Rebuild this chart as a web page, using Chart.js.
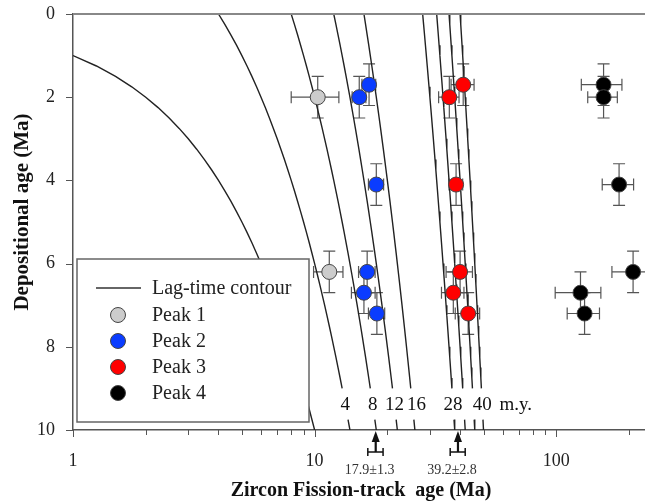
<!DOCTYPE html>
<html>
<head>
<meta charset="utf-8">
<script src="https://cdn.jsdelivr.net/npm/chart.js@4"></script>
<style>
  body { margin: 0; background: #fff; }
</style>
</head>
<body>
<canvas id="myChart" width="645" height="504"></canvas>
<script>
// depositional ages of the grain-age peaks (Ma)
const depAges = [1.7, 2.0, 4.1, 6.2, 6.7, 7.2];

const peak1X = [10.3, 11.5];
const peak1Y = [2.0, 6.2];
const peak1XErr = [2.3, 1.6];

const peak2X = [16.8, 15.3, 18.0, 16.5, 16.0, 18.1];
const peak2XErr = [1.1, 1.0, 1.3, 1.3, 1.8, 1.4];

const peak3X = [41.2, 36.1, 38.5, 40.0, 37.5, 43.2];
const peak3XErr = [4.5, 3.5, 2.5, 5.0, 4.0, 5.0];

const peak4X = [157, 157, 182, 208, 126, 131];
const peak4XErr = [30, 22, 27, 38, 27, 20];

const depErr = 0.5;

// lag-time contours (m.y.): FT age = depositional age + lag
const lagTimes = [0, 4, 8, 12, 16, 28, 32, 36, 40];
const lagLabels = ['4', '8', '12', '16', '28', '40'];

// sources (bottom arrows)
const sourceAges = [17.9, 39.2];
const sourceErr = [1.3, 2.8];

const xMajorTicks = [1, 10, 100];
const xMinorTicks = [2, 3, 4, 5, 6, 7, 8, 9, 20, 30, 40, 50, 60, 70, 80, 90, 200];
const yTicks = [0, 2, 4, 6, 8, 10];

const serif = 'Liberation Serif';

function pts(xs, ys) {
  return xs.map((x, i) => ({ x: x, y: ys[i] }));
}

// sampling of depositional age along each contour
function contourData(lag) {
  const out = [];
  const start = lag === 0 ? 1 : 0;
  for (let d = start; d <= 9.001; d += 0.25) out.push({ x: d + lag, y: d });
  if (lag === 0) {
    out.push({ x: 9.5, y: 9.5 }, { x: 10, y: 10 });
  } else {
    out.push({ x: NaN, y: NaN }, { x: 9.75 + lag, y: 9.75 }, { x: 10 + lag, y: 10 });
  }
  return out;
}

const peaks = [
  { label: 'Peak 1', data: pts(peak1X, peak1Y), err: peak1XErr, color: '#cccccc' },
  { label: 'Peak 2', data: pts(peak2X, depAges), err: peak2XErr, color: '#0a3cff' },
  { label: 'Peak 3', data: pts(peak3X, depAges), err: peak3XErr, color: '#ff0000' },
  { label: 'Peak 4', data: pts(peak4X, depAges), err: peak4XErr, color: '#000000' }
];

const datasets = [];
peaks.forEach(p => {
  datasets.push({
    type: 'scatter',
    label: p.label,
    data: p.data,
    xErr: p.err,
    backgroundColor: p.color,
    borderColor: '#444',
    borderWidth: 1,
    pointRadius: 7.5,
    order: 0
  });
});
lagTimes.forEach(l => {
  datasets.push({
    type: 'line',
    label: 'lag ' + l,
    data: contourData(l),
    borderColor: '#222',
    borderWidth: 1.4,
    pointRadius: 0,
    fill: false,
    spanGaps: false,
    order: 1
  });
});

const extras = {
  id: 'extras',
  beforeDatasetsDraw(chart) {
    const c = chart.ctx, xs = chart.scales.x, ys = chart.scales.y;
    c.save();
    c.strokeStyle = '#555';
    c.lineWidth = 1.2;
    chart.data.datasets.forEach(ds => {
      if (!ds.xErr) return;
      ds.data.forEach((p, i) => {
        const px = xs.getPixelForValue(p.x), py = ys.getPixelForValue(p.y);
        const x0 = xs.getPixelForValue(p.x - ds.xErr[i]);
        const x1 = Math.min(xs.getPixelForValue(p.x + ds.xErr[i]), chart.chartArea.right + 20);
        const y0 = ys.getPixelForValue(p.y - depErr), y1 = ys.getPixelForValue(p.y + depErr);
        c.beginPath();
        c.moveTo(x0, py); c.lineTo(x1, py);
        c.moveTo(x0, py - 6); c.lineTo(x0, py + 6);
        c.moveTo(x1, py - 6); c.lineTo(x1, py + 6);
        c.moveTo(px, y0); c.lineTo(px, y1);
        c.moveTo(px - 6, y0); c.lineTo(px + 6, y0);
        c.moveTo(px - 6, y1); c.lineTo(px + 6, y1);
        c.stroke();
      });
    });
    c.restore();
  },
  afterDatasetsDraw(chart) {
    const c = chart.ctx, xs = chart.scales.x, ys = chart.scales.y;
    const a = chart.chartArea;
    c.save();
    // lag labels
    c.fillStyle = '#111';
    c.font = '19px ' + serif;
    c.textAlign = 'center';
    c.textBaseline = 'middle';
    lagLabels.forEach(t => {
      const nudge = t === '16' ? 4 : 0;
      c.fillText(t, xs.getPixelForValue(9.4 + Number(t)) + nudge, ys.getPixelForValue(9.4));
    });
    c.fillText('m.y.', xs.getPixelForValue(68), ys.getPixelForValue(9.4));

    // legend box
    const lx = 77, ly = 259, lw = 232, lh = 163;
    c.fillStyle = '#fff';
    c.fillRect(lx, ly, lw, lh);
    c.strokeStyle = '#666';
    c.lineWidth = 1.5;
    c.strokeRect(lx, ly, lw, lh);
    c.font = '20px ' + serif;
    c.textAlign = 'left';
    c.fillStyle = '#222';
    c.strokeStyle = '#333';
    c.lineWidth = 1.4;
    c.beginPath(); c.moveTo(96, 288); c.lineTo(141, 288); c.stroke();
    c.fillText('Lag-time contour', 152, 289);
    peaks.forEach((p, i) => {
      const y = 315 + i * 26;
      c.beginPath();
      c.arc(118, y, 7.5, 0, Math.PI * 2);
      c.fillStyle = p.color; c.fill();
      c.strokeStyle = '#444'; c.lineWidth = 1; c.stroke();
      c.fillStyle = '#222';
      c.fillText(p.label, 152, y + 1);
    });

    // frame: top line and tick marks
    c.strokeStyle = '#888';
    c.lineWidth = 2;
    c.beginPath(); c.moveTo(a.left, a.top); c.lineTo(a.right, a.top); c.stroke();
    c.strokeStyle = '#555';
    c.lineWidth = 1;
    c.beginPath();
    xMajorTicks.forEach(v => {
      const x = Math.round(xs.getPixelForValue(v)) + 0.5;
      c.moveTo(x, a.bottom); c.lineTo(x, a.bottom + 7);
    });
    xMinorTicks.forEach(v => {
      const x = Math.round(xs.getPixelForValue(v)) + 0.5;
      c.moveTo(x, a.bottom); c.lineTo(x, a.bottom + 5);
    });
    yTicks.forEach(v => {
      const y = Math.round(ys.getPixelForValue(v)) + 0.5;
      c.moveTo(a.left - 7, y); c.lineTo(a.left, y);
    });
    c.stroke();

    // source arrows below the axis
    c.fillStyle = '#111';
    c.strokeStyle = '#111';
    sourceAges.forEach((v, i) => {
      const x = xs.getPixelForValue(v);
      const x0 = xs.getPixelForValue(v - sourceErr[i]), x1 = xs.getPixelForValue(v + sourceErr[i]);
      c.lineWidth = 2.2;
      c.beginPath(); c.moveTo(x, a.bottom + 8); c.lineTo(x, a.bottom + 22); c.stroke();
      c.beginPath();
      c.moveTo(x, a.bottom + 1); c.lineTo(x - 4, a.bottom + 12); c.lineTo(x + 4, a.bottom + 12);
      c.closePath(); c.fill();
      c.lineWidth = 1.5;
      c.beginPath();
      c.moveTo(x0, a.bottom + 22); c.lineTo(x1, a.bottom + 22);
      c.moveTo(x0, a.bottom + 18); c.lineTo(x0, a.bottom + 26);
      c.moveTo(x1, a.bottom + 18); c.lineTo(x1, a.bottom + 26);
      c.stroke();
      c.font = '14px ' + serif;
      c.textAlign = 'center';
      c.fillStyle = '#333';
      c.fillText(v + '\u00b1' + sourceErr[i], x - 6, a.bottom + 40);
      c.fillStyle = '#111';
    });

    // axis titles
    c.fillStyle = '#111';
    c.font = 'bold 20px ' + serif;
    c.textAlign = 'center';
    c.fillText('Zircon Fission-track  age (Ma)', 361, 491);
    c.font = 'bold 21px ' + serif;
    c.translate(23, 212);
    c.rotate(-Math.PI / 2);
    c.fillText('Depositional age (Ma)', 0, 0);
    c.restore();
  }
};

function noPad(s) {
  s.paddingTop = 0; s.paddingBottom = 0; s.paddingLeft = 0; s.paddingRight = 0;
}

new Chart(document.getElementById('myChart'), {
  type: 'scatter',
  data: { datasets: datasets },
  options: {
    responsive: false,
    animation: false,
    layout: { autoPadding: false, padding: { top: 14, right: 0, left: 0, bottom: 0 } },
    plugins: { legend: { display: false }, tooltip: { enabled: false } },
    scales: {
      x: {
        type: 'logarithmic',
        position: 'bottom',
        min: 1,
        max: 233,
        grid: { display: true, drawOnChartArea: false, drawTicks: false },
        border: { display: true, color: '#555', width: 1.5 },
        afterBuildTicks: s => { s.ticks = xMajorTicks.concat(xMinorTicks).sort((a, b) => a - b).map(v => ({ value: v })); },
        afterFit: s => { s.height = 74; noPad(s); },
        ticks: {
          autoSkip: false,
          maxRotation: 0,
          padding: 20,
          color: '#222',
          font: { family: serif, size: 18 },
          callback: v => xMajorTicks.includes(v) ? String(v) : ''
        }
      },
      y: {
        reverse: true,
        min: 0,
        max: 10,
        grid: { display: true, drawOnChartArea: false, drawTicks: false },
        border: { display: true, color: '#555', width: 1.5 },
        afterFit: s => { s.width = 73; noPad(s); },
        ticks: {
          stepSize: 2,
          padding: 18,
          color: '#222',
          font: { family: serif, size: 18 }
        }
      }
    }
  },
  plugins: [extras]
});
</script>
</body>
</html>
